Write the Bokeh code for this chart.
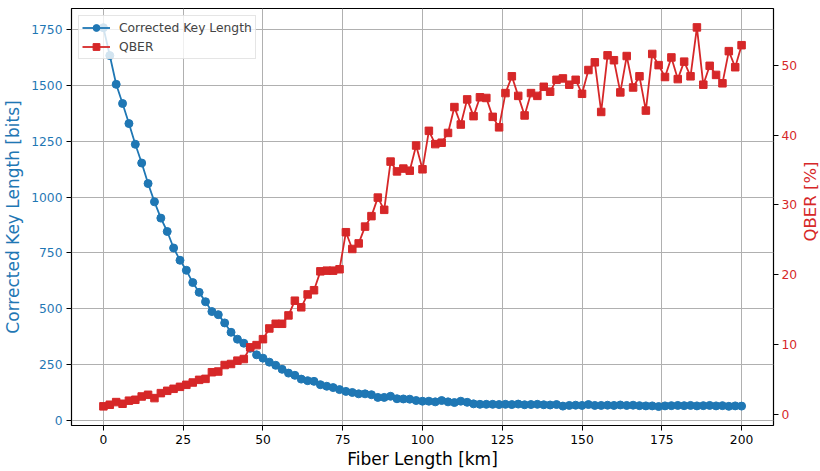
import math

from bokeh.plotting import figure
from bokeh.layouts import row
from bokeh.models import Range1d, LinearAxis, FixedTicker
from bokeh.core.properties import value
from bokeh.embed import file_html
from bokeh.resources import INLINE

# Fiber length sweep (km)
fiber_km = list(range(0, 201, 2))

# Corrected key length after error correction (bits)
key_length_bits = [
    1760, 1635, 1506, 1420, 1330, 1237, 1153, 1061, 979, 906,
    846, 772, 717, 672, 617, 573, 531, 487, 473, 436,
    394, 363, 345, 322, 293, 278, 260, 246, 228, 211,
    201, 184, 177, 174, 159, 152, 146, 137, 129, 124,
    118, 118, 114, 102, 102, 107, 96, 95, 94, 88,
    85, 85, 82, 88, 82, 79, 85, 80, 73, 71,
    71, 71, 70, 71, 70, 72, 69, 70, 71, 69,
    68, 70, 63, 66, 67, 66, 70, 66, 66, 67,
    66, 68, 66, 67, 65, 64, 64, 61, 64, 65,
    66, 65, 66, 64, 65, 66, 64, 65, 62, 64,
    63,
]

# Quantum bit error rate (%)
qber_percent = [
    1.19, 1.42, 1.80, 1.56, 2.00, 2.13, 2.60, 2.84, 2.37, 3.08,
    3.41, 3.70, 3.98, 4.27, 4.60, 4.98, 5.12, 6.07, 6.17, 7.10,
    7.25, 7.73, 7.96, 9.63, 9.95, 10.8, 12.33, 13.0, 13.0, 14.2,
    16.3, 15.36, 17.2, 17.8, 20.5, 20.6, 20.6, 20.8, 26.1, 23.7,
    24.5, 26.9, 28.4, 31.05, 29.3, 36.2, 34.8, 35.2, 34.9, 38.5,
    35.1, 40.6, 38.7, 38.9, 40.3, 44.0, 41.5, 45.1, 42.7, 45.4,
    45.3, 42.6, 41.1, 46.0, 48.4, 45.6, 42.8, 46.0, 45.6, 46.9,
    46.2, 47.9, 48.1, 47.2, 47.9, 45.9, 49.3, 50.4, 43.3, 51.4,
    50.7, 46.1, 51.3, 46.8, 48.4, 43.5, 51.6, 50.0, 48.3, 51.1,
    48.0, 50.5, 48.4, 55.4, 47.2, 49.9, 48.6, 47.4, 52.0, 49.7,
    52.85,
]

x_ticks = [0, 25, 50, 75, 100, 125, 150, 175, 200]
key_ticks = [0, 250, 500, 750, 1000, 1250, 1500, 1750]
qber_ticks = [0, 10, 20, 30, 40, 50]

BLUE = "#1f77b4"
RED = "#d62728"
FONT = "DejaVu Sans"
TICK_SIZE = "12.3px"
LABEL_SIZE = "17px"

p = figure(
    width=800, height=471,
    output_backend="svg", toolbar_location=None,
    x_range=Range1d(-10, 210), y_range=Range1d(-24, 1846),
    min_border_left=71, min_border_right=25,
    min_border_top=8, min_border_bottom=43,
    background_fill_color="white", border_fill_color="white",
)
p.outline_line_color = "black"
p.outline_line_width = 1.2

p.extra_y_ranges = {"qber": Range1d(-1.55, 58.1)}

# Grid follows the x ticks and the left (key length) ticks
p.xgrid.ticker = FixedTicker(ticks=x_ticks)
p.ygrid.ticker = FixedTicker(ticks=key_ticks)
for g in (p.xgrid, p.ygrid):
    g.grid_line_color = "#b0b0b0"
    g.grid_line_width = 1

def style_axis(ax, color):
    ax.axis_line_color = None
    ax.major_tick_line_color = "black"
    ax.major_tick_out = 5
    ax.major_tick_in = 0
    ax.minor_tick_line_color = None
    ax.major_label_text_font = FONT
    ax.major_label_text_font_size = TICK_SIZE
    ax.major_label_text_color = color
    ax.major_label_standoff = 4
    ax.axis_label_text_font = FONT
    ax.axis_label_text_font_size = LABEL_SIZE
    ax.axis_label_text_font_style = "normal"
    ax.axis_label_text_color = color
    ax.axis_label_standoff = 6

xaxis = p.xaxis[0]
xaxis.ticker = FixedTicker(ticks=x_ticks)
xaxis.axis_label = "Fiber Length [km]"
style_axis(xaxis, "black")
xaxis.axis_label_standoff = 2

yaxis = p.yaxis[0]
yaxis.ticker = FixedTicker(ticks=key_ticks)
yaxis.axis_label = "Corrected Key Length [bits]"
style_axis(yaxis, BLUE)
yaxis.axis_label_standoff = 5

raxis = LinearAxis(y_range_name="qber", ticker=FixedTicker(ticks=qber_ticks))
style_axis(raxis, RED)
raxis.major_label_standoff = 3
p.add_layout(raxis, "right")

# Key length curve
p.line(fiber_km, key_length_bits, line_color=BLUE, line_width=1.8,
       legend_label="Corrected Key Length")
p.scatter(fiber_km, key_length_bits, marker="circle", size=8,
          fill_color=BLUE, line_color=BLUE, legend_label="Corrected Key Length")

# QBER curve on the secondary axis
p.line(fiber_km, qber_percent, line_color=RED, line_width=1.8,
       y_range_name="qber", legend_label="QBER")
p.scatter(fiber_km, qber_percent, marker="square", size=7.5,
          fill_color=RED, line_color=RED, y_range_name="qber",
          legend_label="QBER")

leg = p.legend[0]
leg.location = "top_left"
leg.margin = 7
leg.padding = 3
leg.spacing = 2
leg.glyph_width = 28
leg.glyph_height = 17
leg.label_height = 17
leg.label_standoff = 9
leg.label_text_font = FONT
leg.label_text_font_size = TICK_SIZE
leg.border_line_color = "#cccccc"
leg.border_line_width = 1
leg.background_fill_alpha = 0.8

# Narrow strip holding the right-hand axis title, reading bottom to top
q = figure(
    width=20, height=471,
    output_backend="svg", toolbar_location=None,
    x_range=Range1d(0, 20), y_range=Range1d(0, 471),
    min_border=0, outline_line_color=None,
    background_fill_color="white", border_fill_color="white",
)
q.xaxis.visible = False
q.yaxis.visible = False
q.xgrid.visible = False
q.ygrid.visible = False
q.text(x=[10], y=[253], text=["QBER [%]"], angle=math.pi / 2,
       text_align="center", text_baseline="middle",
       text_font=value(FONT), text_font_size=value("16.5px"),
       text_color=RED)

layout = row(p, q, spacing=0)

open("out.html", "w").write(file_html(layout, INLINE))
